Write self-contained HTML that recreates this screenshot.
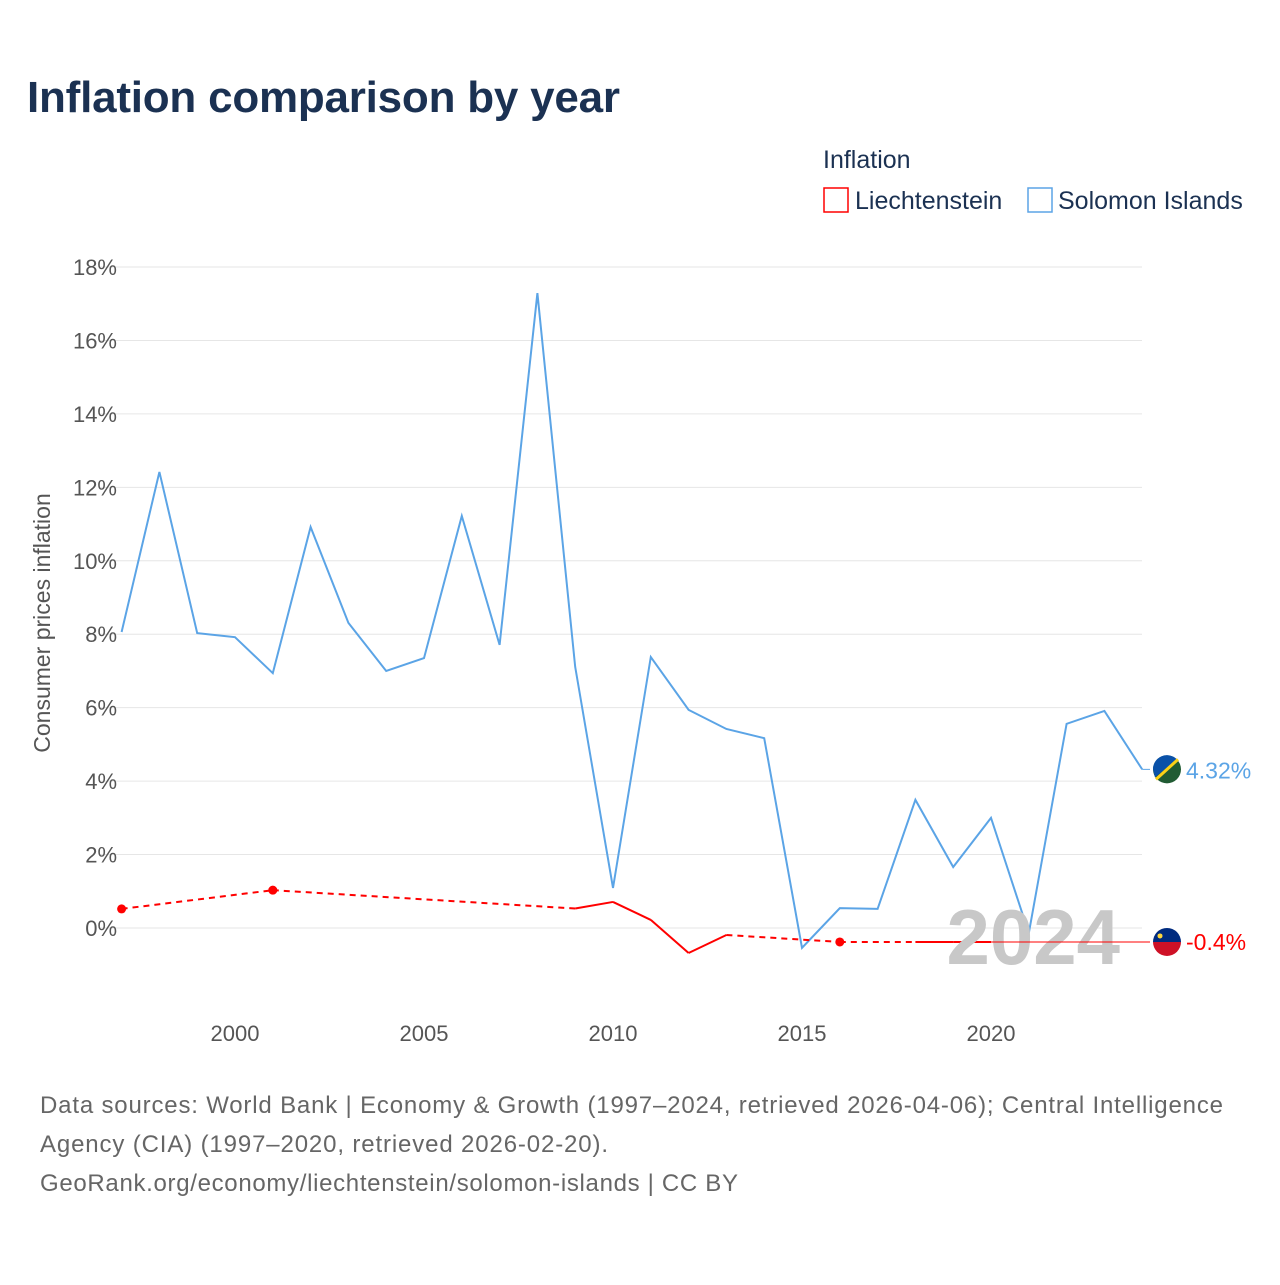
<!DOCTYPE html>
<html><head><meta charset="utf-8"><style>
body{margin:0;background:#fff;font-family:"Liberation Sans",sans-serif;}
</style></head><body>
<svg id="c" width="1280" height="1280" xmlns="http://www.w3.org/2000/svg" style="font-family:'Liberation Sans',sans-serif">
<text x="27" y="112" font-size="44" font-weight="bold" fill="#1b3152" textLength="593">Inflation comparison by year</text>
<text x="823" y="168" font-size="25" fill="#1b3152">Inflation</text>
<g><rect x="824" y="188" width="24" height="24" fill="none" stroke="#ff0000" stroke-width="1.5"/><text x="855" y="209" font-size="25" fill="#1b3152">Liechtenstein</text></g>
<g><rect x="1028" y="188" width="24" height="24" fill="none" stroke="#5ba4e6" stroke-width="1.5"/><text x="1058" y="209" font-size="25" fill="#1b3152">Solomon Islands</text></g>
<text transform="translate(50,623) rotate(-90)" text-anchor="middle" font-size="23" fill="#555">Consumer prices inflation</text>
<g id="grid"></g><g id="marks"></g>
<text x="1120" y="964" text-anchor="end" font-size="78" font-weight="bold" fill="#c8c8c8">2024</text>
<g id="overlay"></g>
<text x="40" y="1113" font-size="24" fill="#666" textLength="1183">Data sources: World Bank | Economy &amp; Growth (1997–2024, retrieved 2026-04-06); Central Intelligence</text>
<text x="40" y="1152" font-size="24" fill="#666" textLength="568">Agency (CIA) (1997–2020, retrieved 2026-02-20).</text>
<text x="40" y="1191" font-size="24" fill="#666" textLength="698">GeoRank.org/economy/liechtenstein/solomon-islands | CC BY</text>
</svg>
<script>
const years=[1997,1998,1999,2000,2001,2002,2003,2004,2005,2006,2007,2008,2009,2010,2011,2012,2013,2014,2015,2016,2017,2018,2019,2020,2021,2022,2023,2024];
const solomon=[8.06,12.42,8.03,7.92,6.94,10.92,8.31,7.0,7.35,11.22,7.71,17.29,7.11,1.09,7.38,5.94,5.42,5.17,-0.54,0.54,0.52,3.49,1.66,3.0,-0.14,5.56,5.91,4.32];
const liech=[0.52,null,null,null,1.03,null,null,null,null,null,null,null,0.53,0.71,0.22,-0.68,-0.19,null,null,-0.38,null,-0.38,-0.38,-0.38,null,null,null,null];
const yTicks=[0,2,4,6,8,10,12,14,16,18];
const xTicks=[2000,2005,2010,2015,2020];
const NS="http://www.w3.org/2000/svg";
const X=y=>121.6+(y-1997)*37.8, Y=v=>928-v*36.72;
function mk(t,a,p){const e=document.createElementNS(NS,t);for(const k in a)e.setAttribute(k,a[k]);(p||document.getElementById('marks')).appendChild(e);return e;}
const grid=document.getElementById('grid');
yTicks.forEach(t=>{const l=mk('line',{x1:100,x2:1142,y1:Y(t),y2:Y(t),stroke:'#e6e6e6'},grid);


const tx=mk('text',{x:117,y:Y(t)+8,'text-anchor':'end','font-size':22,fill:'#555'},grid);tx.textContent=t+'%';

});
xTicks.forEach(t=>{const tx=mk('text',{x:X(t),y:1041,'text-anchor':'middle','font-size':22,fill:'#555'},grid);tx.textContent=t;

});
const sp=mk('polyline',{points:years.map((y,i)=>X(y)+','+Y(solomon[i])).join(' '),fill:'none',stroke:'#5ba4e6','stroke-width':2});


const idx=liech.map((v,i)=>v==null?-1:i).filter(i=>i>=0);
for(let k=0;k<idx.length-1;k++){const a=idx[k],b=idx[k+1];
const l=mk('line',{x1:X(years[a]),y1:Y(liech[a]),x2:X(years[b]),y2:Y(liech[b]),stroke:'#ff0000','stroke-width':2});
if(b-a>1)l.setAttribute('stroke-dasharray','6,5');

}
idx.forEach(i=>{const iso=(i===0||liech[i-1]==null)&&(i===liech.length-1||liech[i+1]==null);
if(iso){const c=mk('circle',{cx:X(years[i]),cy:Y(liech[i]),r:4.5,fill:'#ff0000'});

}});
const ov=document.getElementById('overlay');
const lastL=idx[idx.length-1];
const ll=mk('line',{x1:X(years[lastL]),y1:Y(liech[lastL]),x2:1150,y2:Y(liech[lastL]),stroke:'#ff0000','stroke-width':1},ov);


const sl=mk('line',{x1:X(2024),y1:Y(solomon[27]),x2:1150,y2:Y(solomon[27]),stroke:'#5ba4e6','stroke-width':1},ov);


const fs=mk('g',{},ov);
mk('circle',{cx:1167,cy:Y(solomon[27]),r:14,fill:'#215b33'},fs);
mk('path',{d:`M1153,${Y(solomon[27])} A14,14 0 0 1 1177,${Y(solomon[27])-10} L1155,${Y(solomon[27])+8}Z`,fill:'#0a51a8'},fs);
mk('line',{x1:1156,y1:Y(solomon[27])+10,x2:1178,y2:Y(solomon[27])-10,stroke:'#fcd116','stroke-width':3},fs);
const ly=Y(liech[lastL]);
const fl=mk('g',{},ov);
mk('path',{d:`M1153,${ly} A14,14 0 0 1 1181,${ly}Z`,fill:'#002b7f'},fl);
mk('path',{d:`M1153,${ly} A14,14 0 0 0 1181,${ly}Z`,fill:'#ce1126'},fl);
mk('circle',{cx:1160,cy:ly-6,r:2.5,fill:'#ffd83d'},fl);
const t1=mk('text',{x:1186,y:Y(solomon[27])+9,'font-size':23,fill:'#5ba4e6'},ov);t1.textContent=solomon[27].toFixed(2)+'%';


const t2=mk('text',{x:1186,y:ly+8,'font-size':23,fill:'#ff0000'},ov);t2.textContent=liech[lastL].toFixed(1)+'%';


</script>
</body></html>
